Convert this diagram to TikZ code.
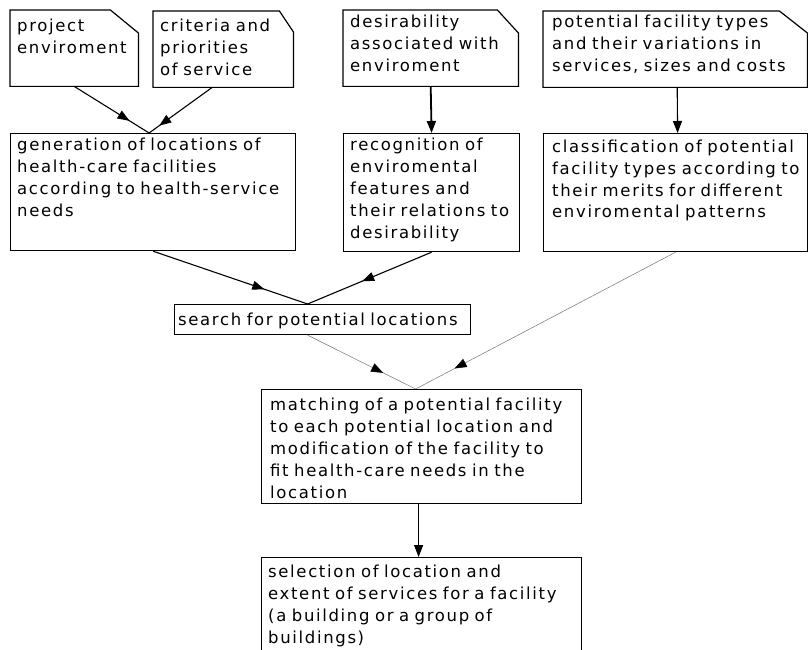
\documentclass[tikz,border=0pt]{standalone}
\usepackage{fontspec}
\setmainfont{DejaVu Sans}[LetterSpace=10]
\usetikzlibrary{arrows.meta,decorations.markings}

\newcommand{\docframe}[3]{%
  \draw [frame] (#1.south west) -- (#1.north west) -- ([xshift=-#2pt]#1.north east)
    -- ([yshift=-#3pt]#1.north east) -- (#1.south east) -- cycle;}

\begin{document}
\begin{tikzpicture}[x=1pt,y=-1pt,
    frame/.style={line width=1.2pt},
    box/.style={anchor=north west,inner sep=0pt},
    txt/.style={anchor=base west,inner sep=0pt,text width=400pt,align=left,
      font=\fontsize{16.5}{22}\selectfont},
    link/.style={line width=1.1pt},
    faint/.style={line width=0.5pt,black!55},
    tip/.style={-{Triangle[length=12pt,width=9pt,color=black]}},
    midarrow/.style={postaction={decorate,decoration={markings,
      mark=at position #1 with {\arrow{Triangle[length=12pt,width=9pt,color=black]}}}}}]
  \useasboundingbox (0,0) rectangle (808,650);
  \node [box,minimum width=128pt,minimum height=76pt] (env) at (10,10) {};
  \node [box,minimum width=140pt,minimum height=76pt] (crit) at (153,11) {};
  \node [box,minimum width=175pt,minimum height=76pt] (desir) at (343,10) {};
  \node [box,minimum width=264pt,minimum height=76pt] (types) at (543,11) {};
  \docframe{env}{28}{23}
  \docframe{crit}{14}{21}
  \docframe{desir}{21}{23}
  \docframe{types}{28}{22}
  \node [txt] (env-t) at ([xshift=7pt,yshift=-22pt]env.north west) {project\\enviroment};
  \node [txt] (crit-t) at ([xshift=7pt,yshift=-21pt]crit.north west) {criteria and\\priorities\\of service};
  \node [txt] (desir-t) at ([xshift=7pt,yshift=-18pt]desir.north west) {desirability\\associated with\\enviroment};
  \node [txt] (types-t) at ([xshift=9pt,yshift=-17pt]types.north west) {potential facility types\\and their variations in\\services, sizes and costs};
  \node [box,draw,frame,minimum width=285pt,minimum height=117pt] (gen) at (10,133) {};
  \node [box,draw,frame,minimum width=176pt,minimum height=118pt] (recog) at (343,133) {};
  \node [box,draw,frame,minimum width=264pt,minimum height=118pt] (classif) at (543,133) {};
  \node [txt] (gen-t) at ([xshift=7pt,yshift=-17pt]gen.north west) {generation of locations of\\health-care facilities\\according to health-service\\needs};
  \node [txt] (recog-t) at ([xshift=7pt,yshift=-17pt]recog.north west) {recognition of\\enviromental\\features and\\their relations to\\desirability};
  \node [txt] (classif-t) at ([xshift=9pt,yshift=-19pt]classif.north west) {classification of potential\\facility types according to\\their merits for different\\enviromental patterns};
  \node [box,draw,frame,minimum width=296pt,minimum height=30pt] (search) at (174,304) {};
  \node [txt] (search-t) at ([xshift=4pt,yshift=-21pt]search.north west) {search for potential locations};
  \node [box,draw,frame,minimum width=320pt,minimum height=114pt] (match) at (261,389) {};
  \node [txt] (match-t) at ([xshift=9pt,yshift=-21pt]match.north west) {matching of a potential facility\\to each potential location and\\modification of the facility to\\fit health-care needs in the\\location};
  \node [box,draw,frame,minimum width=320pt,minimum height=96pt] (select) at (261,557) {};
  \node [txt] (select-t) at ([xshift=7pt,yshift=-20pt]select.north west) {selection of location and\\extent of services for a facility\\(a building or a group of\\buildings)};
  \draw [link,midarrow=0.74] (env.south) -- ([xshift=-4pt]gen.north);
  \draw [link,midarrow=0.84] ([xshift=-11pt]crit.south) -- ([xshift=-4pt]gen.north);
  \draw [line width=1.8pt,tip] (desir.south) -- (recog.north);
  \draw [link,tip] ([xshift=2pt]types.south) -- ([xshift=2pt]classif.north);
  \draw [link,midarrow=0.72] (gen.south) -- ([xshift=-15pt]search.north);
  \draw [link,midarrow=0.56] (recog.south) -- ([xshift=-15pt]search.north);
  \draw [faint,midarrow=0.7] ([xshift=-15pt]search.south) -- ([xshift=-6pt]match.north);
  \draw [faint,midarrow=0.85] (classif.south) -- ([xshift=-6pt]match.north);
  \draw [link,tip] ([xshift=-3pt]match.south) -- ([xshift=-3pt]select.north);
\end{tikzpicture}
\end{document}
